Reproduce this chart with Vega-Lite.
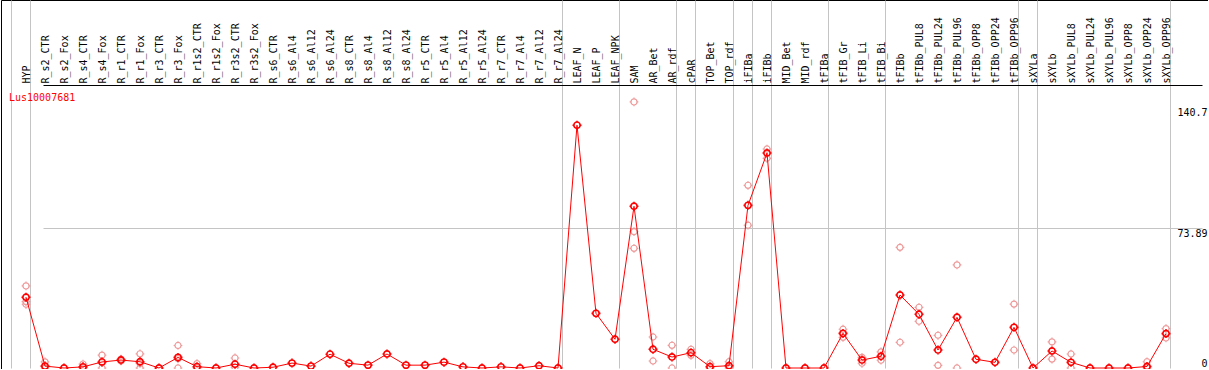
{
  "$schema": "https://vega.github.io/schema/vega-lite/v6.json",
  "width": 1207,
  "height": 369,
  "autosize": "none",
  "padding": {"left": 1, "top": 0, "right": 0, "bottom": 0},
  "background": "white",
  "title": {
    "text": "Lus10007681",
    "color": "#ff0000",
    "font": "DejaVu Sans Mono",
    "fontSize": 10,
    "fontWeight": "normal",
    "anchor": "start",
    "frame": "group",
    "orient": "top",
    "baseline": "top",
    "offset": -103,
    "dx": 8
  },
  "data": {
    "values": [
      {"sample": "HYP", "kind": "mean", "value": 37.4},
      {"sample": "R_s2_CTR", "kind": "mean", "value": 1.0},
      {"sample": "R_s2_Fox", "kind": "mean", "value": 0},
      {"sample": "R_s4_CTR", "kind": "mean", "value": 0.6},
      {"sample": "R_s4_Fox", "kind": "mean", "value": 3.2},
      {"sample": "R_r1_CTR", "kind": "mean", "value": 4.2},
      {"sample": "R_r1_Fox", "kind": "mean", "value": 3.3},
      {"sample": "R_r3_CTR", "kind": "mean", "value": 0},
      {"sample": "R_r3_Fox", "kind": "mean", "value": 5.6},
      {"sample": "R_r1s2_CTR", "kind": "mean", "value": 0.7},
      {"sample": "R_r1s2_Fox", "kind": "mean", "value": 0},
      {"sample": "R_r3s2_CTR", "kind": "mean", "value": 2.0},
      {"sample": "R_r3s2_Fox", "kind": "mean", "value": 0},
      {"sample": "R_s6_CTR", "kind": "mean", "value": 0.4},
      {"sample": "R_s6_Al4", "kind": "mean", "value": 2.6},
      {"sample": "R_s6_Al12", "kind": "mean", "value": 1.0},
      {"sample": "R_s6_Al24", "kind": "mean", "value": 7.3},
      {"sample": "R_s8_CTR", "kind": "mean", "value": 2.5},
      {"sample": "R_s8_Al4", "kind": "mean", "value": 1.5},
      {"sample": "R_s8_Al12", "kind": "mean", "value": 7.4},
      {"sample": "R_s8_Al24", "kind": "mean", "value": 1.5},
      {"sample": "R_r5_CTR", "kind": "mean", "value": 1.5},
      {"sample": "R_r5_Al4", "kind": "mean", "value": 3.1},
      {"sample": "R_r5_Al12", "kind": "mean", "value": 0.6},
      {"sample": "R_r5_Al24", "kind": "mean", "value": 0},
      {"sample": "R_r7_CTR", "kind": "mean", "value": 0.6},
      {"sample": "R_r7_Al4", "kind": "mean", "value": 0},
      {"sample": "R_r7_Al12", "kind": "mean", "value": 1.2},
      {"sample": "R_r7_Al24", "kind": "mean", "value": 0},
      {"sample": "LEAF_N", "kind": "mean", "value": 128.4},
      {"sample": "LEAF_P", "kind": "mean", "value": 28.9},
      {"sample": "LEAF_NPK", "kind": "mean", "value": 15.2},
      {"sample": "SAM", "kind": "mean", "value": 85.5},
      {"sample": "AR_Bet", "kind": "mean", "value": 9.9},
      {"sample": "AR_rdf", "kind": "mean", "value": 5.8},
      {"sample": "cPAR", "kind": "mean", "value": 8.1},
      {"sample": "TOP_Bet", "kind": "mean", "value": 0.7},
      {"sample": "TOP_rdf", "kind": "mean", "value": 1.2},
      {"sample": "iFIBa", "kind": "mean", "value": 86.0},
      {"sample": "iFIBb", "kind": "mean", "value": 113.7},
      {"sample": "MID_Bet", "kind": "mean", "value": 0},
      {"sample": "MID_rdf", "kind": "mean", "value": 0},
      {"sample": "tFIBa", "kind": "mean", "value": 0},
      {"sample": "tFIB_Gr", "kind": "mean", "value": 18.3},
      {"sample": "tFIB_Li", "kind": "mean", "value": 4.2},
      {"sample": "tFIB_Bi", "kind": "mean", "value": 6.2},
      {"sample": "tFIBb", "kind": "mean", "value": 38.6},
      {"sample": "tFIBb_PUL8", "kind": "mean", "value": 28.4},
      {"sample": "tFIBb_PUL24", "kind": "mean", "value": 9.5},
      {"sample": "tFIBb_PUL96", "kind": "mean", "value": 26.8},
      {"sample": "tFIBb_OPP8", "kind": "mean", "value": 4.6},
      {"sample": "tFIBb_OPP24", "kind": "mean", "value": 3.0},
      {"sample": "tFIBb_OPP96", "kind": "mean", "value": 21.5},
      {"sample": "sXYLa", "kind": "mean", "value": 0},
      {"sample": "sXYLb", "kind": "mean", "value": 9.0},
      {"sample": "sXYLb_PUL8", "kind": "mean", "value": 3.0},
      {"sample": "sXYLb_PUL24", "kind": "mean", "value": 0},
      {"sample": "sXYLb_PUL96", "kind": "mean", "value": 0},
      {"sample": "sXYLb_OPP8", "kind": "mean", "value": 0},
      {"sample": "sXYLb_OPP24", "kind": "mean", "value": 0.8},
      {"sample": "sXYLb_OPP96", "kind": "mean", "value": 18.2},
      {"sample": "HYP", "kind": "rep", "value": 43.4},
      {"sample": "HYP", "kind": "rep", "value": 35.1},
      {"sample": "HYP", "kind": "rep", "value": 33.7},
      {"sample": "R_s2_CTR", "kind": "rep", "value": 3.2},
      {"sample": "R_s2_CTR", "kind": "rep", "value": 0},
      {"sample": "R_s4_CTR", "kind": "rep", "value": 2.1},
      {"sample": "R_s4_CTR", "kind": "rep", "value": 0},
      {"sample": "R_s4_Fox", "kind": "rep", "value": 6.8},
      {"sample": "R_s4_Fox", "kind": "rep", "value": 0},
      {"sample": "R_s4_Fox", "kind": "rep", "value": 2.8},
      {"sample": "R_r1_CTR", "kind": "rep", "value": 4.7},
      {"sample": "R_r1_CTR", "kind": "rep", "value": 3.7},
      {"sample": "R_r1_Fox", "kind": "rep", "value": 7.5},
      {"sample": "R_r1_Fox", "kind": "rep", "value": 0},
      {"sample": "R_r1_Fox", "kind": "rep", "value": 2.4},
      {"sample": "R_r3_Fox", "kind": "rep", "value": 11.9},
      {"sample": "R_r3_Fox", "kind": "rep", "value": 0},
      {"sample": "R_r3_Fox", "kind": "rep", "value": 4.9},
      {"sample": "R_r1s2_CTR", "kind": "rep", "value": 2.3},
      {"sample": "R_r1s2_CTR", "kind": "rep", "value": 0},
      {"sample": "R_r3s2_CTR", "kind": "rep", "value": 5.3},
      {"sample": "R_r3s2_CTR", "kind": "rep", "value": 0.4},
      {"sample": "SAM", "kind": "rep", "value": 140.7},
      {"sample": "SAM", "kind": "rep", "value": 72.1},
      {"sample": "SAM", "kind": "rep", "value": 63.3},
      {"sample": "AR_Bet", "kind": "rep", "value": 16.4},
      {"sample": "AR_Bet", "kind": "rep", "value": 3.7},
      {"sample": "AR_rdf", "kind": "rep", "value": 12.0},
      {"sample": "AR_rdf", "kind": "rep", "value": 0},
      {"sample": "cPAR", "kind": "rep", "value": 9.9},
      {"sample": "cPAR", "kind": "rep", "value": 6.7},
      {"sample": "TOP_Bet", "kind": "rep", "value": 2.3},
      {"sample": "TOP_Bet", "kind": "rep", "value": 0},
      {"sample": "TOP_rdf", "kind": "rep", "value": 3.3},
      {"sample": "TOP_rdf", "kind": "rep", "value": 0},
      {"sample": "iFIBa", "kind": "rep", "value": 96.6},
      {"sample": "iFIBa", "kind": "rep", "value": 75.5},
      {"sample": "iFIBb", "kind": "rep", "value": 115.8},
      {"sample": "iFIBb", "kind": "rep", "value": 110.9},
      {"sample": "tFIB_Gr", "kind": "rep", "value": 20.5},
      {"sample": "tFIB_Gr", "kind": "rep", "value": 16.2},
      {"sample": "tFIB_Li", "kind": "rep", "value": 5.6},
      {"sample": "tFIB_Li", "kind": "rep", "value": 2.5},
      {"sample": "tFIB_Bi", "kind": "rep", "value": 8.5},
      {"sample": "tFIB_Bi", "kind": "rep", "value": 4.1},
      {"sample": "tFIBb", "kind": "rep", "value": 63.8},
      {"sample": "tFIBb", "kind": "rep", "value": 13.6},
      {"sample": "tFIBb_PUL8", "kind": "rep", "value": 32.1},
      {"sample": "tFIBb_PUL8", "kind": "rep", "value": 24.7},
      {"sample": "tFIBb_PUL24", "kind": "rep", "value": 17.3},
      {"sample": "tFIBb_PUL24", "kind": "rep", "value": 1.4},
      {"sample": "tFIBb_PUL96", "kind": "rep", "value": 54.5},
      {"sample": "tFIBb_PUL96", "kind": "rep", "value": 0},
      {"sample": "tFIBb_OPP96", "kind": "rep", "value": 33.8},
      {"sample": "tFIBb_OPP96", "kind": "rep", "value": 9.5},
      {"sample": "sXYLb", "kind": "rep", "value": 13.8},
      {"sample": "sXYLb", "kind": "rep", "value": 4.7},
      {"sample": "sXYLb_PUL8", "kind": "rep", "value": 7.4},
      {"sample": "sXYLb_PUL8", "kind": "rep", "value": 0},
      {"sample": "sXYLb_OPP24", "kind": "rep", "value": 3.3},
      {"sample": "sXYLb_OPP24", "kind": "rep", "value": 0},
      {"sample": "sXYLb_OPP96", "kind": "rep", "value": 20.8},
      {"sample": "sXYLb_OPP96", "kind": "rep", "value": 15.9}
    ]
  },
  "encoding": {
    "x": {
      "field": "sample",
      "type": "nominal",
      "scale": {
        "type": "point",
        "padding": 0,
        "range": [6, 1165],
        "domain": [" ", "HYP", "R_s2_CTR", "R_s2_Fox", "R_s4_CTR", "R_s4_Fox", "R_r1_CTR", "R_r1_Fox", "R_r3_CTR", "R_r3_Fox", "R_r1s2_CTR", "R_r1s2_Fox", "R_r3s2_CTR", "R_r3s2_Fox", "R_s6_CTR", "R_s6_Al4", "R_s6_Al12", "R_s6_Al24", "R_s8_CTR", "R_s8_Al4", "R_s8_Al12", "R_s8_Al24", "R_r5_CTR", "R_r5_Al4", "R_r5_Al12", "R_r5_Al24", "R_r7_CTR", "R_r7_Al4", "R_r7_Al12", "R_r7_Al24", "LEAF_N", "LEAF_P", "LEAF_NPK", "SAM", "AR_Bet", "AR_rdf", "cPAR", "TOP_Bet", "TOP_rdf", "iFIBa", "iFIBb", "MID_Bet", "MID_rdf", "tFIBa", "tFIB_Gr", "tFIB_Li", "tFIB_Bi", "tFIBb", "tFIBb_PUL8", "tFIBb_PUL24", "tFIBb_PUL96", "tFIBb_OPP8", "tFIBb_OPP24", "tFIBb_OPP96", "sXYLa", "sXYLb", "sXYLb_PUL8", "sXYLb_PUL24", "sXYLb_PUL96", "sXYLb_OPP8", "sXYLb_OPP24", "sXYLb_OPP96"]
      },
      "axis": {
        "orient": "top",
        "title": null,
        "domain": false,
        "ticks": false,
        "labelAngle": -90,
        "labelAlign": "left",
        "labelBaseline": "middle",
        "labelPadding": -83,
        "labelFont": "DejaVu Sans Mono",
        "labelFontSize": 10,
        "labelColor": "black",
        "labelOverlap": false,
        "labelBound": false,
        "labelFlush": false,
        "tickOffset": 4,
        "labelOffset": -4,
        "grid": true,
        "gridColor": "#c4c4c4",
        "gridWidth": 1,
        "gridOpacity": {
          "condition": {
            "test": "indexof([' ', 'HYP', 'R_r7_Al24', 'LEAF_NPK', 'AR_rdf', 'cPAR', 'TOP_rdf', 'iFIBa', 'iFIBb', 'tFIBa', 'tFIB_Bi', 'tFIBb_OPP96', 'sXYLa', 'sXYLb_OPP96'], datum.value) >= 0",
            "value": 1
          },
          "value": 0
        }
      }
    },
    "y": {
      "field": "value",
      "type": "quantitative",
      "scale": {"domain": [0, 194.6], "range": [368, 0], "nice": false, "zero": true},
      "axis": {
        "orient": "right",
        "title": null,
        "domain": false,
        "ticks": false,
        "values": [0, 73.89, 140.7, 149.5],
        "labelExpr": "datum.value > 145 ? '' : '' + datum.value",
        "labelAlign": "right",
        "labelPadding": -1,
        "labelFont": "DejaVu Sans Mono",
        "labelFontSize": 10,
        "labelColor": "black",
        "labelOverlap": false,
        "labelFlush": false,
        "labelBound": false,
        "labelBaseline": {
          "condition": {"test": "datum.value == 0", "value": "bottom"},
          "value": "top"
        },
        "labelOffset": {
          "condition": {"test": "datum.value == 140.7", "value": 6},
          "value": 0
        },
        "grid": true,
        "gridWidth": 1,
        "gridColor": {
          "condition": {"test": "datum.value > 145", "value": "black"},
          "value": "#c4c4c4"
        },
        "gridOpacity": {
          "condition": {"test": "datum.value == 73.89 || datum.value > 145", "value": 1},
          "value": 0
        }
      }
    }
  },
  "layer": [
    {
      "transform": [{"filter": "datum.kind == 'rep'"}],
      "mark": {
        "type": "point",
        "filled": false,
        "shape": "M-0.7,0A0.7,0.7,0,1,0,0.7,0A0.7,0.7,0,1,0,-0.7,0M0,-0.7L0,-1M0,0.7L0,1M-0.7,0L-1,0M0.7,0L1,0",
        "size": 76,
        "stroke": "#ee9a9a",
        "strokeWidth": 1.2,
        "opacity": 1
      }
    },
    {
      "transform": [{"filter": "datum.kind == 'mean'"}],
      "mark": {"type": "line", "color": "#ff0000", "strokeWidth": 1},
      "encoding": {"order": {"value": null}}
    },
    {
      "transform": [{"filter": "datum.kind == 'mean'"}],
      "mark": {
        "type": "point",
        "filled": false,
        "shape": "M-0.7,0A0.7,0.7,0,1,0,0.7,0A0.7,0.7,0,1,0,-0.7,0M0,-0.7L0,-1M0,0.7L0,1M-0.7,0L-1,0M0.7,0L1,0",
        "size": 81,
        "stroke": "#ff0000",
        "strokeWidth": 1.6,
        "opacity": 1
      }
    }
  ],
  "config": {
    "view": {"stroke": "black", "strokeWidth": 1}
  }
}
